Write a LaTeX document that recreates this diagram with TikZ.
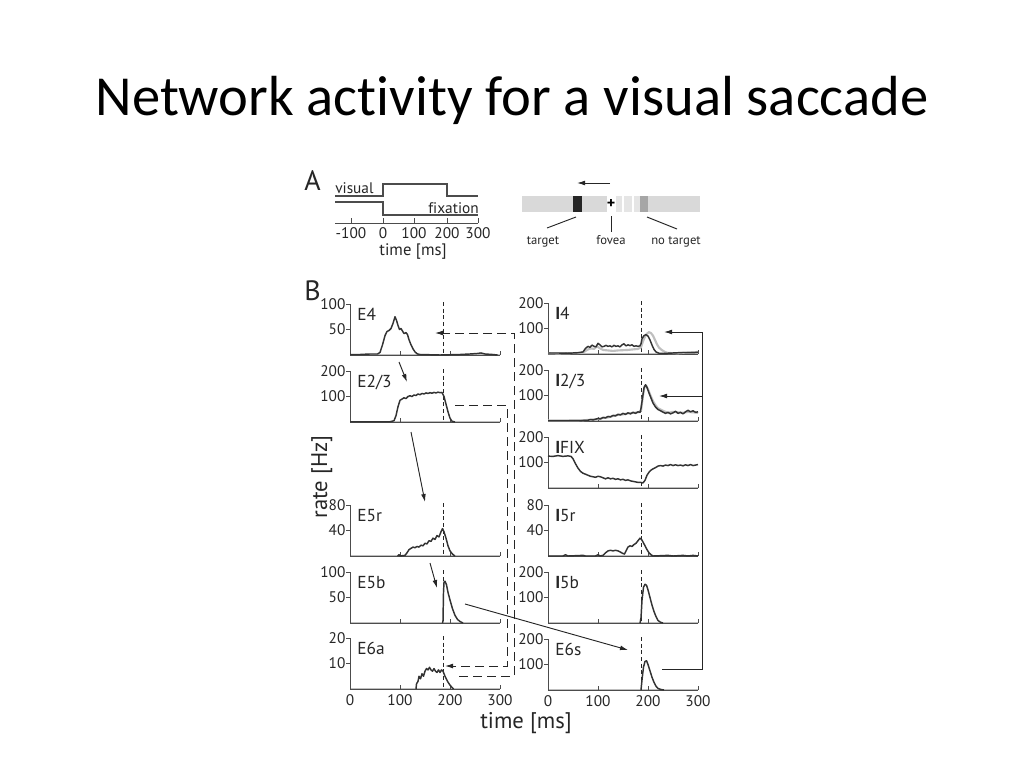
\documentclass[tikz,border=0pt]{standalone}
\usepackage{fontspec}
\setmainfont{PT Sans}[Ligatures=NoCommon]
\newfontfamily\titlefont{Carlito}[Ligatures=NoCommon]
\usetikzlibrary{arrows.meta}

\begin{document}
\begin{tikzpicture}[x=0.75pt,y=-0.75pt,
    trace/.style={line width=1.1pt,black!80,line join=round},
    ghost/.style={line width=1.6pt,black!25,line join=round},
    axis/.style={line width=0.7pt,black!70},
    onset/.style={line width=0.6pt,black!85,dash pattern=on 3pt off 2pt},
    link/.style={line width=0.7pt,black!85,-{Latex[length=6pt,width=3.6pt]}},
    dlink/.style={link,dash pattern=on 6.5pt off 4pt},
    ticklbl/.style={font=\fontsize{11.5}{12}\selectfont,text=black!85,inner sep=1pt},
    cellname/.style={font=\fontsize{13}{14}\selectfont,text=black!85,inner sep=0pt,anchor=north west},
    paneltag/.style={font=\fontsize{21}{22}\selectfont,text=black!85,inner sep=0pt,anchor=north west},
    retlbl/.style={font=\fontsize{9.5}{11}\selectfont,text=black!85,anchor=base}]

    \useasboundingbox (0,0) rectangle (1024,768);

    \newcommand*{\tMax}{300}%
    \def\pxms{0.5}
    \def\hgt{51}
    \def\tOnset{186}

    \node[font=\titlefont\fontsize{42.4}{50}\selectfont,anchor=base] (title) at (512,115) {Network activity for a visual saccade};

    % --- A: stimulus timing and retina ---
    \node[paneltag] (labA) at (304,170) {A};
    \draw[axis,line width=0.9pt] (335,196) -- (383,196) -- (383,184) -- (447,184) -- (447,196) -- (478,196);
    \draw[axis,line width=0.9pt] (335,202) -- (383,202) -- (383,215) -- (478,215);
    \node[ticklbl,anchor=base west,inner sep=0pt] (visual) at (335,193) {visual};
    \node[ticklbl,anchor=base east,inner sep=0pt] (fixation) at (479,213) {fixation};
    \draw[axis] (335,223) -- (478,223);
    \foreach \t/\xcoord in {-100/351, 0/383, 100/414, 200/447, 300/478} {
      \draw[axis] (\xcoord,223) -- (\xcoord,218);
      \node[ticklbl,anchor=north] (A\t) at (\xcoord,226) {\t};
    }
    \node[font=\fontsize{12.5}{14}\selectfont,text=black!85,anchor=base] (Atime) at (413,255) {time [ms]};

    \fill[black!15] (522,196) rectangle (700,212);
    \fill[black!10] (616,196) rectangle (640,212);
    \fill[black!85] (573,196) rectangle (582,212);
    \fill[white] (607,196) rectangle (616,212);
    \foreach \xcoord in {622, 632} {
      \fill[white] (\xcoord,196) rectangle (\xcoord+1.5,212);
    }
    \fill[black!35] (640,196) rectangle (648,212);
    \node[font=\bfseries\fontsize{12}{12}\selectfont,inner sep=0pt] (fovea) at (611,204) {+};
    \coordinate (sacStart) at (610,183);
    \coordinate (sacEnd) at (577,183);
    \draw[link] (sacStart) -- (sacEnd);
    \node[retlbl] (tgt) at (543,244) {target};
    \node[retlbl] (fov) at (611,244) {fovea};
    \node[retlbl] (notgt) at (676,244) {no target};
    \coordinate (tgtTop) at (576,217);
    \coordinate (tgtEnd) at (547,228);
    \coordinate (fovTop) at (611,216);
    \coordinate (fovEnd) at (611,232);
    \coordinate (notgtTop) at (647,217);
    \coordinate (notgtEnd) at (677,229);
    \draw[axis,black!85] (tgtTop) -- (tgtEnd);
    \draw[axis,black!85] (fovTop) -- (fovEnd);
    \draw[axis,black!85] (notgtTop) -- (notgtEnd);

    % --- B: population rates ---
    \node[paneltag] (labB) at (304,280) {B};

    \foreach \xo/\yo/\nm/\lbl/\ytop/\ymid in {350/355/E4/E4/100/50, 350/422/E23/{E2/3}/200/100,
        350/556/E5r/E5r/80/40, 350/623/E5b/E5b/100/50, 350/689/E6a/E6a/20/10,
        548/354/I4/{\textbf{I}4}/200/100, 548/421/I23/{\textbf{I}2/3}/200/100,
        548/488/IFIX/{\textbf{I}FIX}/200/100, 548/556/I5r/{\textbf{I}5r}/80/40,
        548/623/I5b/{\textbf{I}5b}/200/100, 548/690/E6s/E6s/200/100} {
      \draw[ghost] (\xo,\yo) -- (\xo+\tMax*\pxms,\yo);
      \draw[axis] (\xo-4,\yo-\hgt) -- (\xo,\yo-\hgt) -- (\xo,\yo) -- (\xo+\tMax*\pxms,\yo);
      \draw[axis] (\xo-4,\yo-\hgt/2) -- (\xo,\yo-\hgt/2);
      \foreach \i in {1,2,3} {
        \draw[axis] (\xo+100*\i*\pxms,\yo) -- (\xo+100*\i*\pxms,\yo-4);
      }
      \draw[onset] (\xo+\tOnset*\pxms,\yo-\hgt-2) -- (\xo+\tOnset*\pxms,\yo);
      \node[ticklbl,anchor=east] (\nm-top) at (\xo-3,\yo-\hgt) {\ytop};
      \node[ticklbl,anchor=east] (\nm-mid) at (\xo-3,\yo-\hgt/2) {\ymid};
      \node[cellname] (\nm-name) at (\xo+7,\yo-\hgt+4) {\lbl};
    }
    \foreach \xo/\yo/\nm in {350/689/E6a, 548/690/E6s} {
      \foreach \t in {0,100,200,300} {
        \node[ticklbl,anchor=north] (\nm-x\t) at (\xo+\t*\pxms,\yo+4) {\t};
      }
    }
    \node[font=\fontsize{17}{20}\selectfont,text=black!85,anchor=base] (xlab) at (526,728) {time [ms]};
    \node[font=\fontsize{17}{20}\selectfont,text=black!85,anchor=base,rotate=90] (ylab) at (327,477) {rate [Hz]};

    % traces, t in ms and rate in Hz
    \begin{scope}[shift={(350,355)},xscale=0.5,yscale=-0.51]
      \draw[trace] (0,1) -- (20,1) -- (40,2) -- (55,2) -- (60,5) -- (65,20) -- (70,38) -- (74,46) -- (78,48) -- (82,52) -- (86,62) -- (90,75) -- (93,68) -- (96,58) -- (99,50) -- (102,52) -- (105,47) -- (108,42) -- (112,44) -- (115,40) -- (118,30) -- (122,20) -- (126,12) -- (130,6) -- (135,2) -- (140,1) -- (180,0) -- (220,1) -- (240,2) -- (255,3) -- (262,4) -- (270,2) -- (285,1) -- (295,0);
    \end{scope}
    \begin{scope}[shift={(350,422)},xscale=0.5,yscale=-0.255]
      \draw[trace] (0,1) -- (80,1) -- (88,5) -- (92,25) -- (96,60) -- (100,85) -- (104,90) -- (108,95) -- (112,92) -- (116,100) -- (120,103) -- (124,100) -- (128,106) -- (132,104) -- (136,110) -- (140,107) -- (144,112) -- (148,110) -- (152,114) -- (156,112) -- (160,115) -- (164,113) -- (168,116) -- (172,114) -- (176,117) -- (180,115) -- (184,116) -- (188,100) -- (192,70) -- (196,40) -- (200,15) -- (204,3) -- (210,0);
    \end{scope}
    \begin{scope}[shift={(350,556)},xscale=0.5,yscale=-0.6375]
      \draw[trace] (95,0) -- (98,2) -- (100,0) -- (110,1) -- (114,5) -- (118,10) -- (122,12) -- (126,14) -- (130,13) -- (134,15) -- (138,14) -- (142,17) -- (146,16) -- (150,20) -- (154,19) -- (158,24) -- (162,23) -- (166,28) -- (170,26) -- (174,32) -- (178,30) -- (182,38) -- (185,43) -- (188,38) -- (192,28) -- (196,16) -- (200,8) -- (205,3) -- (210,0);
    \end{scope}
    \begin{scope}[shift={(350,623)},xscale=0.5,yscale=-0.51]
      \draw[trace] (185,0) -- (186,5) -- (187,60) -- (188,80) -- (190,82) -- (193,75) -- (196,60) -- (200,45) -- (205,28) -- (210,15) -- (215,7) -- (220,3) -- (226,0);
    \end{scope}
    \begin{scope}[shift={(350,689)},xscale=0.5,yscale=-2.55]
      \draw[trace] (132,0) -- (133,2) -- (136,3) -- (138,5) -- (141,4) -- (144,6) -- (147,5) -- (150,7) -- (153,8) -- (156,7.5) -- (159,8.5) -- (162,7.5) -- (165,7) -- (168,8) -- (171,7) -- (174,6.5) -- (177,7.5) -- (180,6.5) -- (183,7.5) -- (186,7) -- (190,5) -- (195,3) -- (200,1.5) -- (207,0);
    \end{scope}
    \begin{scope}[shift={(548,354)},xscale=0.5,yscale=-0.255]
      \draw[ghost] (0,3) -- (20,2) -- (40,3) -- (60,4) -- (70,6) -- (80,18) -- (86,22) -- (92,20) -- (98,30) -- (104,22) -- (110,16) -- (120,14) -- (130,12) -- (140,14) -- (150,15) -- (160,16) -- (170,18) -- (180,20) -- (186,26) -- (190,50) -- (194,68) -- (198,80) -- (202,86) -- (206,82) -- (210,72) -- (214,55) -- (218,38) -- (222,25) -- (228,15) -- (234,8) -- (240,4) -- (260,3) -- (280,6) -- (300,8);
      \draw[trace] (0,4) -- (20,4) -- (40,3) -- (60,5) -- (70,8) -- (75,22) -- (80,30) -- (84,26) -- (88,35) -- (92,30) -- (96,28) -- (100,42) -- (104,36) -- (108,28) -- (112,30) -- (116,34) -- (120,30) -- (124,32) -- (128,28) -- (132,34) -- (136,30) -- (140,32) -- (144,28) -- (148,36) -- (152,40) -- (156,32) -- (160,36) -- (164,33) -- (168,36) -- (172,30) -- (176,32) -- (180,30) -- (184,32) -- (186,40) -- (188,60) -- (192,72) -- (196,76) -- (200,70) -- (204,55) -- (208,35) -- (212,18) -- (216,8) -- (222,3) -- (230,2) -- (250,4) -- (270,6) -- (290,5) -- (300,7);
    \end{scope}
    \begin{scope}[shift={(548,421)},xscale=0.5,yscale=-0.255]
      \draw[ghost] (0,2) -- (60,2) -- (80,4) -- (90,6) -- (100,8) -- (110,12) -- (120,14) -- (130,20) -- (140,24) -- (150,26) -- (160,30) -- (170,32) -- (180,34) -- (186,40) -- (190,100) -- (193,135) -- (196,140) -- (200,125) -- (205,100) -- (210,78) -- (215,62) -- (220,50) -- (230,40) -- (240,32) -- (250,36) -- (260,34) -- (270,32) -- (280,36) -- (290,34) -- (300,32);
      \draw[trace] (0,1) -- (40,1) -- (70,2) -- (80,3) -- (85,6) -- (90,4) -- (100,10) -- (105,8) -- (110,14) -- (115,12) -- (120,18) -- (125,16) -- (130,22) -- (135,20) -- (140,26) -- (145,24) -- (150,30) -- (155,26) -- (160,32) -- (165,28) -- (170,34) -- (175,30) -- (180,36) -- (184,34) -- (186,50) -- (189,90) -- (192,130) -- (195,142) -- (198,132) -- (202,110) -- (206,90) -- (210,70) -- (215,55) -- (220,45) -- (225,40) -- (230,35) -- (235,30) -- (240,34) -- (245,28) -- (250,32) -- (255,38) -- (260,30) -- (265,34) -- (270,28) -- (275,36) -- (280,42) -- (285,36) -- (290,40) -- (295,34) -- (300,36);
    \end{scope}
    \begin{scope}[shift={(548,488)},xscale=0.5,yscale=-0.255]
      \draw[trace] (0,125) -- (10,124) -- (20,127) -- (30,124) -- (40,126) -- (46,124) -- (50,115) -- (55,95) -- (60,78) -- (65,65) -- (70,58) -- (75,54) -- (80,50) -- (85,46) -- (90,44) -- (95,42) -- (100,46) -- (105,44) -- (110,40) -- (115,36) -- (120,40) -- (125,36) -- (130,38) -- (135,34) -- (140,36) -- (145,32) -- (150,34) -- (155,30) -- (160,32) -- (165,28) -- (170,26) -- (175,24) -- (180,22) -- (185,22) -- (190,20) -- (194,30) -- (198,50) -- (202,62) -- (206,70) -- (210,75) -- (215,80) -- (220,86) -- (225,88) -- (230,86) -- (235,90) -- (240,88) -- (245,92) -- (250,88) -- (255,91) -- (260,88) -- (265,90) -- (270,87) -- (275,91) -- (280,88) -- (285,92) -- (290,88) -- (295,90) -- (300,92);
    \end{scope}
    \begin{scope}[shift={(548,556)},xscale=0.5,yscale=-0.6375]
      \draw[trace] (0,0) -- (30,0) -- (35,2) -- (40,0) -- (70,1) -- (75,0) -- (95,0) -- (100,2) -- (104,0) -- (110,1) -- (115,5) -- (120,8) -- (125,9) -- (130,8) -- (135,9) -- (140,8) -- (145,6) -- (150,4) -- (153,3) -- (156,8) -- (160,14) -- (164,16) -- (168,15) -- (172,18) -- (176,20) -- (180,24) -- (184,28) -- (187,26) -- (190,22) -- (194,16) -- (198,10) -- (202,5) -- (206,2) -- (210,0) -- (240,1) -- (250,0) -- (270,1) -- (280,0) -- (290,1) -- (300,0);
    \end{scope}
    \begin{scope}[shift={(548,623)},xscale=0.5,yscale=-0.255]
      \draw[trace] (184,0) -- (186,20) -- (188,90) -- (191,140) -- (194,152) -- (197,148) -- (200,130) -- (204,100) -- (208,70) -- (212,45) -- (216,25) -- (220,10) -- (225,3) -- (230,0);
    \end{scope}
    \begin{scope}[shift={(548,690)},xscale=0.5,yscale=-0.255]
      \draw[trace] (186,0) -- (188,40) -- (191,90) -- (194,112) -- (197,115) -- (200,100) -- (204,75) -- (208,50) -- (212,30) -- (216,15) -- (220,6) -- (226,2) -- (232,0);
    \end{scope}

    % feed-forward arrows
    \coordinate (ffE4) at (399,362);
    \coordinate (ffE23) at (407,382);
    \coordinate (ffE23b) at (411,432);
    \coordinate (ffE5r) at (425,502);
    \coordinate (ffE5rb) at (430,563);
    \coordinate (ffE5b) at (437,588);
    \coordinate (ffE5bb) at (465,604);
    \coordinate (ffE6s) at (628,650);
    \draw[link] (ffE4) -- (ffE23);
    \draw[link] (ffE23b) -- (ffE5r);
    \draw[link] (ffE5rb) -- (ffE5b);
    \draw[link] (ffE5bb) -- (ffE6s);

    % feedback, dashed
    \coordinate (fbE6a) at (459,676);
    \coordinate (fbE4) at (435,333);
    \coordinate (fbE23) at (455,405);
    \coordinate (fbE6in) at (445,666);
    \draw[dlink] (fbE6a) -| (514,333) -- (fbE4);
    \draw[dlink] (fbE23) -| (507,666) -- (fbE6in);

    % E6s to inhibitory cells
    \coordinate (fbE6s) at (662,669);
    \coordinate (inI4) at (664,332);
    \coordinate (inI23) at (659,396);
    \draw[link] (fbE6s) -| (702,332) -- (inI4);
    \draw[link] (702,396) -- (inI23);
\end{tikzpicture}
\end{document}
